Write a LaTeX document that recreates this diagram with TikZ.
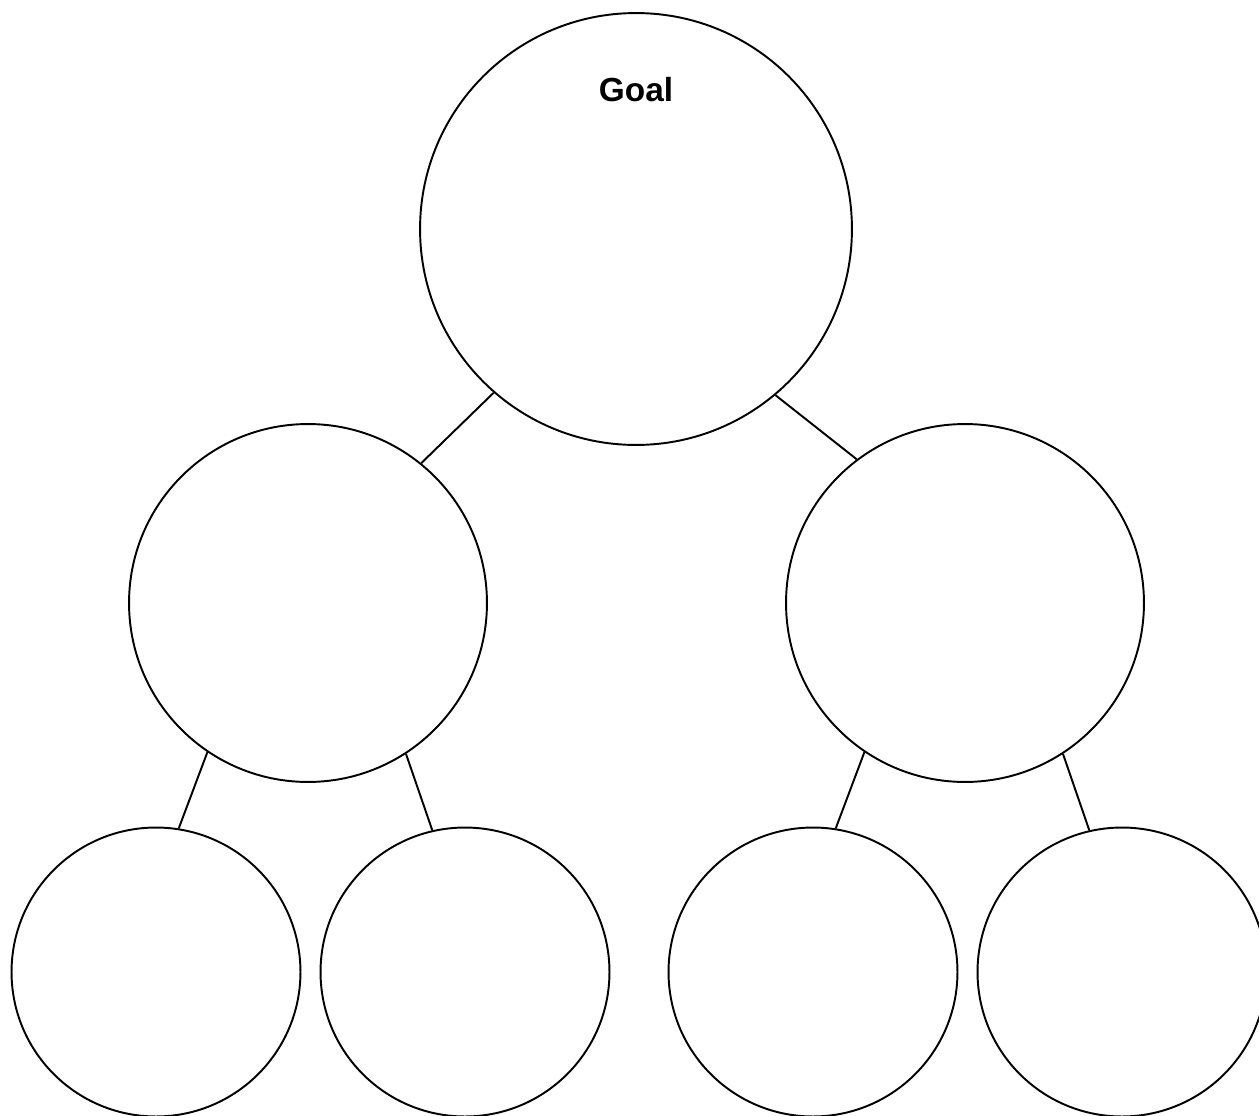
\documentclass[tikz,border=0pt]{standalone}
\usepackage{fontspec}
\setsansfont{Liberation Sans}
\usetikzlibrary{positioning}
\tikzset{
  treenode/.style={draw, circle, line width=1.1pt, inner sep=0pt},
  goalnode/.style={treenode, minimum size=8.64cm},
  subnode/.style={treenode, minimum size=7.16cm},
  leafnode/.style={treenode, minimum size=5.78cm},
  link/.style={line width=1.1pt},
  title/.style={font=\sffamily\bfseries\fontsize{19}{22}\selectfont},
}
\begin{document}
\begin{tikzpicture}[x=0.02cm, y=-0.02cm]
  \useasboundingbox (0,0) rectangle (1259,1116);
  % goal and sub goals
  \node[goalnode] (goal) at (636,229) {};
  \node[title] (goaltext) at (636,90) {Goal};
  \node[subnode] (subL) at (308,603) {};
  \node[subnode] (subR) at (965,603) {};
  % leaves
  \node[leafnode] (leafLL) at (156,972) {};
  \node[leafnode] (leafLR) at (465,972) {};
  \node[leafnode] (leafRL) at (813,972) {};
  \node[leafnode] (leafRR) at (1122,972) {};
  % links
  \draw[link] (goal.-131) -- (subL.51);
  \draw[link] (goal.-50) -- (subR.127);
  \draw[link] (subL.-124) -- (leafLL.81);
  \draw[link] (subL.-57) -- (leafLR.103);
  \draw[link] (subR.-124) -- (leafRL.81);
  \draw[link] (subR.-57) -- (leafRR.103);
\end{tikzpicture}
\end{document}
